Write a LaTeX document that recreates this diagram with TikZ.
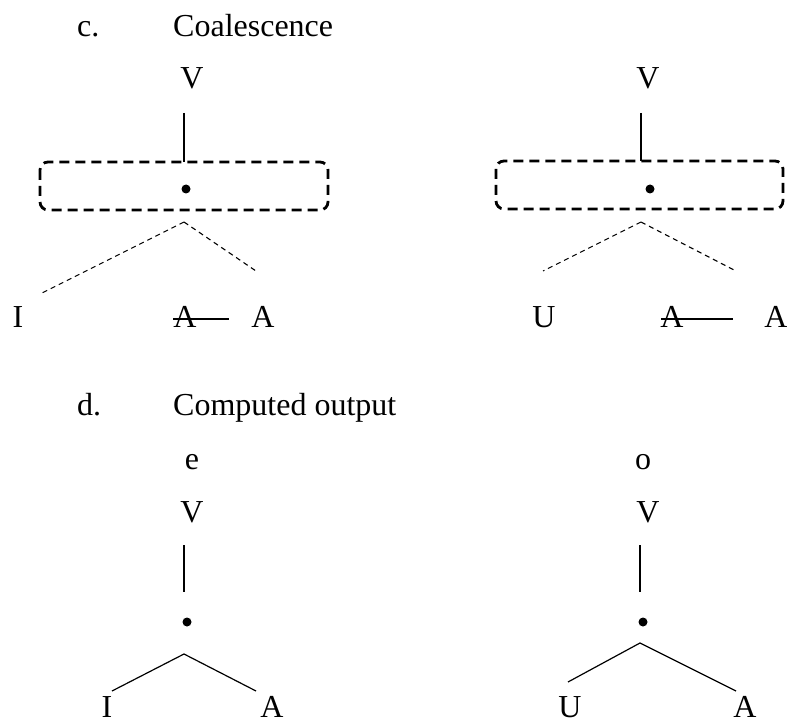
\documentclass[tikz,border=0pt]{standalone}
\usepackage{fontspec}
\setmainfont{Liberation Serif}
\begin{document}
\begin{tikzpicture}[x=1pt,y=-1pt,
  lbl/.style={inner sep=0pt,anchor=base,font=\fontsize{32}{38}\selectfont},
  lblw/.style={inner sep=0pt,anchor=base west,font=\fontsize{32}{38}\selectfont},
  solidline/.style={line width=1.2pt},
  thindash/.style={line width=1.1pt,dash pattern=on 5pt off 4pt},
  boxdash/.style={line width=2.8pt,dash pattern=on 10pt off 6pt,rounded corners=8pt},
  dotmark/.style={circle,fill=black,inner sep=0pt,minimum size=9pt},
  strike/.style={line width=2pt}]
\useasboundingbox (0,0) rectangle (787,722);

% ---------- c. Coalescence ----------
\node[lblw] (clab) at (77,37) {c.};
\node[lblw] (ctitle) at (173,37) {Coalescence};

% left tree
\node[lbl] (V1) at (192,89) {V};
\coordinate (V1b) at (184,113);
\coordinate (B1t) at (184,162);
\draw[solidline] (V1b) -- (B1t);
\draw[boxdash] (40,162) rectangle (328,210);
\node[dotmark] (d1) at (186,189) {};
\coordinate (ap1) at (184,222);
\coordinate (l1) at (40,294);
\coordinate (r1) at (256,271);
\draw[thindash] (ap1) -- (l1);
\draw[thindash] (ap1) -- (r1);
\node[lbl] (I1) at (18,327) {I};
\node[lbl] (Ax1) at (185,327) {A};
\node[lbl] (A1) at (263,327) {A};
\coordinate (s1a) at (173,319);
\coordinate (s1b) at (229,319);
\draw[strike] (s1a) -- (s1b);

% right tree
\node[lbl] (V2) at (648,89) {V};
\coordinate (V2b) at (641,113);
\coordinate (B2t) at (641,161);
\draw[solidline] (V2b) -- (B2t);
\draw[boxdash] (496,161) rectangle (783,209);
\node[dotmark] (d2) at (650,189) {};
\coordinate (ap2) at (641,222);
\coordinate (l2) at (543,271);
\coordinate (r2) at (736,271);
\draw[thindash] (ap2) -- (l2);
\draw[thindash] (ap2) -- (r2);
\node[lbl] (U2) at (544,327) {U};
\node[lbl] (Ax2) at (672,327) {A};
\node[lbl] (A2) at (776,327) {A};
\coordinate (s2a) at (661,319);
\coordinate (s2b) at (733,319);
\draw[strike] (s2a) -- (s2b);

% ---------- d. Computed output ----------
\node[lblw] (dlab) at (77,415) {d.};
\node[lblw] (dtitle) at (173,415) {Computed output};

% left output tree
\node[lbl] (e3) at (192,469) {e};
\node[lbl] (V3) at (192,522) {V};
\coordinate (V3b) at (184,545);
\coordinate (d3t) at (184,592);
\draw[solidline] (V3b) -- (d3t);
\node[dotmark] (d3) at (187,622) {};
\coordinate (ap3) at (184,654);
\coordinate (l3) at (112,691);
\coordinate (r3) at (256,691);
\draw[solidline] (l3) -- (ap3) -- (r3);
\node[lbl] (I3) at (107,717) {I};
\node[lbl] (A3) at (272,717) {A};

% right output tree
\node[lbl] (o4) at (643,469) {o};
\node[lbl] (V4) at (648,522) {V};
\coordinate (V4b) at (640,545);
\coordinate (d4t) at (640,592);
\draw[solidline] (V4b) -- (d4t);
\node[dotmark] (d4) at (643,622) {};
\coordinate (ap4) at (640,643);
\coordinate (l4) at (568,682);
\coordinate (r4) at (736,691);
\draw[solidline] (l4) -- (ap4) -- (r4);
\node[lbl] (U4) at (570,717) {U};
\node[lbl] (A4) at (745,717) {A};
\end{tikzpicture}
\end{document}
